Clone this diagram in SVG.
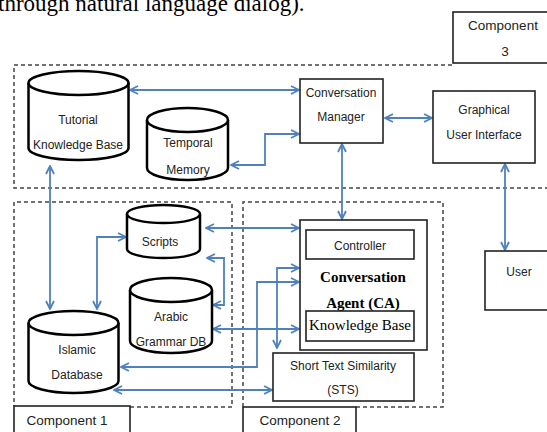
<svg xmlns="http://www.w3.org/2000/svg" width="547" height="432" viewBox="0 0 547 432">
<style>
.bg{fill:#fff}
.cyl{fill:#fff;stroke:#000;stroke-width:2.5}
.box{fill:#fff;stroke:#222;stroke-width:1.6}
.dash{fill:none;stroke:#444;stroke-width:1.5;stroke-dasharray:4 3}
.lbl{font-family:"Liberation Sans",Arial,sans-serif;font-size:12px;fill:#222;text-anchor:middle}
.comp{font-family:"Liberation Sans",Arial,sans-serif;font-size:13.5px;fill:#222;text-anchor:middle}
.ser{font-family:"Liberation Serif","Times New Roman",serif;fill:#000;text-anchor:middle}
.con{fill:none;stroke:#4f81bd;stroke-width:1.8;marker-start:url(#ah);marker-end:url(#ah)}
</style>
<defs>
<marker id="ah" viewBox="0 0 10 10" refX="9" refY="5" markerWidth="10" markerHeight="10" markerUnits="userSpaceOnUse" orient="auto-start-reverse">
<path d="M1,1 L9,5 L1,9" fill="none" stroke="#4f81bd" stroke-width="1.8"/>
</marker>
</defs>
<rect class="bg" x="0" y="0" width="547" height="432"/>
<text x="-2" y="11" font-family="Liberation Serif,'Times New Roman',serif" font-size="23" fill="#000">through natural language dialog).</text>

<g id="component3">
<path class="dash" d="M452,65 H14 V188 H547"/>
<rect class="box" x="453" y="12" width="100" height="51"/>
<text class="comp" x="503" y="30">Component</text>
<text class="comp" x="505" y="56">3</text>
</g>
<g id="component1">
<path class="dash" d="M130,407 H232 V202 H14 V406"/>
<rect class="box" x="14" y="406" width="116" height="40"/>
<text class="comp" x="67" y="425">Component 1</text>
</g>
<g id="component2">
<path class="dash" d="M356,407 H443 V202 H243 V407"/>
<rect class="box" x="243" y="407" width="113" height="40"/>
<text class="comp" x="300" y="425">Component 2</text>
</g>

<g id="connectors">
<path class="con" d="M130,90 H299"/>
<path class="con" d="M299,134 H265 V165 H231"/>
<path class="con" d="M385,118 H432"/>
<path class="con" d="M342,144 V219"/>
<path class="con" d="M505,164 V250"/>
<path class="con" d="M50,166 V309"/>
<path class="con" d="M97,309 V237 H126"/>
<path class="con" d="M206,228 H299"/>
<path class="con" d="M207,258 H224 V305 H213"/>
<path class="con" d="M213,329 H299"/>
<path class="con" d="M121,367 H257 V282 H299"/>
<path class="con" d="M277,348 V268 H299"/>
<path class="con" d="M114,390 H272"/>
</g>

<g id="tutorial-kb">
<path class="cyl" d="M28.5,83 V148 A50,12 0 0 0 128.5,148 V83"/>
<ellipse class="cyl" cx="78.5" cy="83" rx="50" ry="12"/>
<text class="lbl" x="78" y="124" font-size="12.5">Tutorial</text>
<text class="lbl" x="78" y="149">Knowledge Base</text>
</g>
<g id="temporal-memory">
<path class="cyl" d="M147,120 V168 A40.5,12 0 0 0 228,168 V120"/>
<ellipse class="cyl" cx="187.5" cy="120" rx="40.5" ry="12"/>
<text class="lbl" x="188" y="147">Temporal</text>
<text class="lbl" x="188" y="174">Memory</text>
</g>
<g id="conversation-manager">
<rect class="box" x="300" y="79" width="83" height="64"/>
<text class="lbl" x="341" y="97">Conversation</text>
<text class="lbl" x="341" y="121">Manager</text>
</g>
<g id="gui">
<rect class="box" x="433" y="91" width="102" height="72"/>
<text class="lbl" x="484" y="114">Graphical</text>
<text class="lbl" x="484" y="139">User Interface</text>
</g>
<g id="user">
<rect class="box" x="485" y="251" width="80" height="59"/>
<text class="lbl" x="519" y="276">User</text>
</g>
<g id="islamic-db">
<path class="cyl" d="M28.5,323 V381 A45,12 0 0 0 118.5,381 V323"/>
<ellipse class="cyl" cx="73.5" cy="323" rx="45" ry="12"/>
<text class="lbl" x="77" y="354">Islamic</text>
<text class="lbl" x="77" y="379">Database</text>
</g>
<g id="scripts">
<path class="cyl" d="M127,214 V249 A36.5,9 0 0 0 200,249 V214"/>
<ellipse class="cyl" cx="163.5" cy="214" rx="36.5" ry="9"/>
<text class="lbl" x="160" y="246">Scripts</text>
</g>
<g id="arabic-grammar-db">
<path class="cyl" d="M130,290 V341 A41,12 0 0 0 212,341 V290"/>
<ellipse class="cyl" cx="171" cy="290" rx="41" ry="12"/>
<text class="lbl" x="171" y="321">Arabic</text>
<text class="lbl" x="171" y="346">Grammar DB</text>
</g>
<g id="conversation-agent">
<rect class="box" x="300" y="220" width="127" height="130"/>
<rect class="box" x="306" y="230" width="108" height="29"/>
<text class="lbl" x="360" y="250" font-size="15">Controller</text>
<text class="ser" x="363" y="282" font-size="15" font-weight="bold">Conversation</text>
<text class="ser" x="363" y="308" font-size="15" font-weight="bold">Agent (CA)</text>
<rect class="box" x="306" y="311" width="108" height="30"/>
<text class="ser" x="360" y="330" font-size="15">Knowledge Base</text>
</g>
<g id="sts">
<rect class="box" x="273" y="353" width="141" height="48"/>
<text class="lbl" x="343" y="370">Short Text Similarity</text>
<text class="lbl" x="343" y="394">(STS)</text>
</g>
</svg>
